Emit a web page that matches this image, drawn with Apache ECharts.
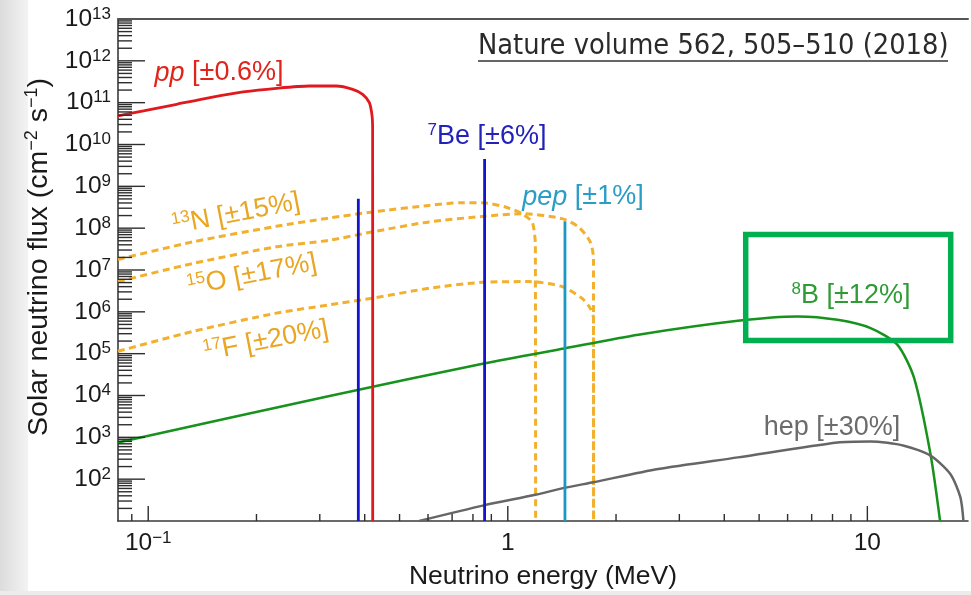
<!DOCTYPE html>
<html><head><meta charset="utf-8">
<script src="https://cdn.jsdelivr.net/npm/echarts@6/dist/echarts.min.js"></script>
<style>html,body{margin:0;padding:0;background:#fff}#c{width:971px;height:595px}</style>
</head><body><div id="c"></div>
<script>
// axis ranges
const X_MIN = 0.0824, X_MAX = 19.05, Y_MIN = 10, Y_MAX = 1e13;

// tick values
const xMajorTicks = [0.1, 1, 10];
const xMinorTicks = [0.09, 0.2, 0.3, 0.4, 0.5, 0.6, 0.7, 0.8, 0.9, 2, 3, 4, 5, 6, 7, 8, 9];
const yMajorTicks = [1e2, 1e3, 1e4, 1e5, 1e6, 1e7, 1e8, 1e9, 1e10, 1e11, 1e12];
const yMinorMantissa = [2, 3, 4, 5, 6, 7, 8, 9];
const yDecades = [1, 2, 3, 4, 5, 6, 7, 8, 9, 10, 11, 12];

// pp continuum
const ppE = [0.0824, 0.097, 0.120, 0.1485, 0.1837, 0.2272, 0.2811, 0.3332, 0.3704, 0.3948, 0.4121, 0.4193, 0.4208, 0.421];
const ppF = [4.83e10, 6.35e10, 9.16e10, 1.32e11, 1.80e11, 2.20e11, 2.50e11, 2.50e11, 2.08e11, 1.58e11, 1.0e11, 4.83e10, 2.33e10, 10];

// 13N continuum
const n13E = [0.0824, 0.1335, 0.2272, 0.3193, 0.4208, 0.604, 0.747, 0.849, 0.985, 1.095, 1.168, 1.188, 1.193, 1.195];
const n13F = [1.79e7, 4.72e7, 1.11e8, 1.75e8, 2.44e8, 3.50e8, 4.06e8, 4.06e8, 3.21e8, 2.22e8, 1.41e8, 6.78e7, 3.92e7, 10];

// 15O continuum
const o15E = [0.0824, 0.1335, 0.2272, 0.3193, 0.4208, 0.604, 0.858, 1.095, 1.414, 1.573, 1.695, 1.731, 1.732];
const o15F = [5.28e6, 1.44e7, 3.59e7, 5.15e7, 8.17e7, 1.41e8, 1.92e8, 2.22e8, 1.69e8, 1.07e8, 4.72e7, 1.89e7, 10];

// 17F continuum
const f17E = [0.0824, 0.1335, 0.2272, 0.3193, 0.4208, 0.604, 0.849, 1.143, 1.414, 1.606, 1.695, 1.731, 1.732];
const f17F = [1.14e5, 3.42e5, 9.3e5, 1.47e6, 2.12e6, 3.66e6, 5.08e6, 5.28e6, 4.02e6, 2.12e6, 1.22e6, 7.08e5, 10];

// 8B continuum
const b8E = [0.0824, 0.3193, 0.858, 1.434, 2.307, 4.364, 6.40, 8.26, 10.21, 12.11, 13.48, 14.98, 15.93];
const b8F = [755, 9.75e3, 5.81e4, 1.33e5, 2.84e5, 6.11e5, 7.78e5, 6.46e5, 4.09e5, 1.64e5, 2.66e4, 398, 10];

// hep continuum
const hepE = [0.567, 0.858, 1.193, 1.436, 1.73, 2.62, 4.364, 8.26, 10.21, 12.64, 14.98, 17.01, 18.14, 18.5];
const hepF = [10, 23.6, 42.2, 61.9, 84.5, 175, 332, 755, 798, 631, 365, 133, 37.2, 10];

// mono-energetic lines
const be7E = [0.384, 0.862];
const be7F = [5.05e8, 4.5e9];
const pepE = [1.442];
const pepF = [1.46e8];

const FONT = 'Liberation Sans, Arial, Helvetica, sans-serif';

function pairs(E, F) { return E.map((e, i) => [e, F[i]]); }
function fmtPow(v, skipMin) {
  const l = Math.log10(v), k = Math.round(l);
  if (Math.abs(l - k) > 1e-6) return '';
  if (skipMin && k === 1) return '';
  if (k === 0) return '{b|1}';
  if (k === 1) return '{b|10}';
  return '{b|10}{s|' + (k < 0 ? '\u2212' + (-k) : k) + '}';
}
const labelRich = {
  b: { fontSize: 24.5, lineHeight: 27, fontFamily: FONT, color: '#1a1a1a' },
  s: { fontSize: 17, lineHeight: 16, fontFamily: FONT, color: '#1a1a1a', verticalAlign: 'top' }
};

function tickSeries(data, len, dir) {
  return {
    type: 'custom', coordinateSystem: 'cartesian2d', silent: true, clip: false, z: 5,
    data: data,
    renderItem: function (params, api) {
      const p = api.coord([api.value(0), api.value(1)]);
      const shape = dir === 'x'
        ? { x1: p[0], y1: p[1], x2: p[0], y2: p[1] - len }
        : { x1: p[0], y1: p[1], x2: p[0] + len, y2: p[1] };
      return { type: 'line', shape: shape, style: { stroke: '#2e2e2e', lineWidth: 1.4 } };
    }
  };
}
function curve(name, data, color, width, dashed, z) {
  return {
    name: name, type: 'line', data: data, symbol: 'none', smooth: 0.25, clip: true, z: z,
    lineStyle: { color: color, width: width, type: dashed ? [7, 4.5] : 'solid' },
    emphasis: { disabled: true }
  };
}
const yMinorTicks = [];
yDecades.forEach(d => yMinorMantissa.forEach(m => yMinorTicks.push(m * Math.pow(10, d))));

const series = [];
series.push(curve('13N', pairs(n13E, n13F), '#f2b02e', 3, true, 2));
series.push(curve('15O', pairs(o15E, o15F), '#f2b02e', 3, true, 2));
series.push(curve('17F', pairs(f17E, f17F), '#f2b02e', 3, true, 2));
series.push(curve('8B', pairs(b8E, b8F), '#17921d', 2.5, false, 3));
series.push(curve('hep', pairs(hepE, hepF), '#666666', 2.5, false, 3));
series.push(curve('pp', pairs(ppE, ppF), '#e0191f', 2.8, false, 4));
be7E.forEach((e, i) => series.push({ name: '7Be', type: 'line', symbol: 'none', z: 4, data: [[e, be7F[i]], [e, Y_MIN]], lineStyle: { color: '#1414cc', width: 2.8 } }));
pepE.forEach((e, i) => series.push({ name: 'pep', type: 'line', symbol: 'none', z: 4, data: [[e, pepF[i]], [e, Y_MIN]], lineStyle: { color: '#1b98c4', width: 2.8 } }));
series.push(tickSeries(xMajorTicks.map(v => [v, Y_MIN]), 15, 'x'));
series.push(tickSeries(xMinorTicks.map(v => [v, Y_MIN]), 7, 'x'));
series.push(tickSeries(yMajorTicks.map(v => [X_MIN, v]), 27, 'y'));
series.push(tickSeries(yMinorTicks.map(v => [X_MIN, v]), 14, 'y'));

function lbl(x, y, text, color, rot) {
  return {
    type: 'text', x: x, y: y, rotation: (rot || 0) * Math.PI / 180, z: 50,
    style: {
      text: text, fill: color, font: '27px ' + FONT, align: 'center', verticalAlign: 'middle',
      rich: {
        t: { fontSize: 27, fontFamily: FONT, fill: color, lineHeight: 30 },
        i: { fontSize: 27, fontFamily: FONT, fill: color, fontStyle: 'italic', lineHeight: 30 },
        u: { fontSize: 17, fontFamily: FONT, fill: color, lineHeight: 17, verticalAlign: 'top' }
      }
    }
  };
}

const chart = echarts.init(document.getElementById('c'));
chart.setOption({
  animation: false,
  backgroundColor: '#ffffff',
  grid: { left: 118, right: 0, top: 19, bottom: 71 },
  xAxis: [{
    type: 'log', min: X_MIN, max: X_MAX, position: 'bottom',
    axisLine: { lineStyle: { color: '#3a3a3a', width: 1.6 } },
    axisTick: { show: false }, splitLine: { show: false }, minorTick: { show: false },
    axisLabel: { formatter: v => fmtPow(v, false), rich: labelRich, margin: 9 },
    name: 'Neutrino energy (MeV)', nameLocation: 'middle', nameGap: 42,
    nameTextStyle: { fontFamily: FONT, fontSize: 26.5, color: '#1a1a1a' }
  }, {
    type: 'log', min: X_MIN, max: X_MAX, position: 'top',
    axisLine: { lineStyle: { color: '#555', width: 2 } },
    axisTick: { show: false }, axisLabel: { show: false }, splitLine: { show: false }
  }],
  yAxis: {
    type: 'log', min: Y_MIN, max: Y_MAX, interval: 1,
    axisLine: { lineStyle: { color: '#3a3a3a', width: 1.6 } },
    axisTick: { show: false }, splitLine: { show: false }, minorTick: { show: false },
    axisLabel: { formatter: v => fmtPow(v, true), rich: labelRich, margin: 7 },
    name: '{n|Solar neutrino flux (cm}{s|\u22122}{n| s}{s|\u22121}{n|)}', nameLocation: 'middle', nameGap: 62, nameRotate: 90,
    nameTextStyle: {
      padding: [0, 0, 0, 26],
      rich: {
        n: { fontFamily: FONT, fontSize: 28.5, color: '#1a1a1a', lineHeight: 33 },
        s: { fontFamily: FONT, fontSize: 18, color: '#1a1a1a', lineHeight: 18, verticalAlign: 'top' }
      }
    }
  },
  series: series,
  graphic: [
    { type: 'rect', shape: { x: 0, y: 0, width: 28, height: 595 }, z: 0, silent: true,
      style: { fill: new echarts.graphic.LinearGradient(0, 0, 1, 0, [{ offset: 0, color: '#dcdcdc' }, { offset: 1, color: '#f3f3f3' }]) } },
    { type: 'rect', shape: { x: 0, y: 591, width: 971, height: 4 }, z: 0, silent: true, style: { fill: '#ececec' } },
    lbl(219, 73, '{i|pp}{t| [\u00b10.6%]}', '#e2231a'),
    lbl(487, 137, '{u|7}{t|Be [\u00b16%]}', '#2222bb'),
    lbl(583, 197, '{i|pep}{t| [\u00b11%]}', '#2a9dc7'),
    lbl(236, 214, '{u|13}{t|N [\u00b115%]}', '#e9a623', 11),
    lbl(252, 275, '{u|15}{t|O [\u00b117%]}', '#e9a623', 11),
    lbl(266, 341, '{u|17}{t|F [\u00b120%]}', '#e9a623', 11),
    lbl(851, 296, '{u|8}{t|B [\u00b112%]}', '#2e9b35'),
    lbl(832, 428, '{t|hep [\u00b130%]}', '#6b6b6b'),
    { type: 'rect', z: 60, shape: { x: 745.7, y: 234.5, width: 205, height: 106 },
      style: { fill: 'none', stroke: '#00b050', lineWidth: 5.5 } },
    { type: 'text', x: 478, y: 47, z: 60,
      style: { text: 'Nature volume 562, 505\u2013510 (2018)', fill: '#2a2a2a', font: '28.7px "DejaVu Sans Condensed", "Open Sans", sans-serif', align: 'left', verticalAlign: 'middle' } },
    { type: 'line', z: 60, shape: { x1: 478, y1: 61, x2: 948, y2: 61 }, style: { stroke: '#333', lineWidth: 1.5 } }
  ]
});
</script></body></html>
